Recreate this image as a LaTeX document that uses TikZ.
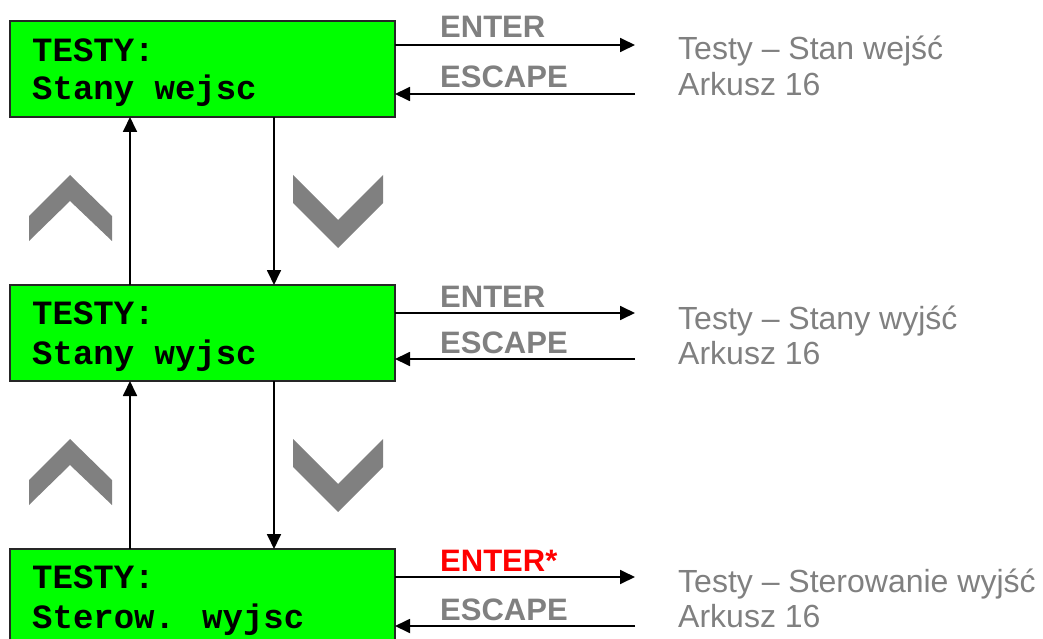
\documentclass[tikz,border=0pt]{standalone}
\usepackage{fontspec}
\setmainfont{Liberation Sans}
\newfontfamily\lcdfont{Liberation Mono}
\usetikzlibrary{arrows.meta}
\definecolor{lcdgreen}{RGB}{0,255,0}
\definecolor{lblgray}{RGB}{128,128,128}
\begin{document}
\begin{tikzpicture}[x=1pt,y=-1pt,
  lcd/.style={draw=black!85,line width=1.6pt,fill=lcdgreen,minimum width=385pt,minimum height=96pt,anchor=north west,inner sep=0pt,outer sep=0pt},
  lcdtxt/.style={anchor=base west,inner sep=0pt,font=\lcdfont\bfseries\fontsize{34}{38}\selectfont},
  key/.style={anchor=base west,inner sep=0pt,text=lblgray,font=\bfseries\fontsize{31}{34}\selectfont},
  keyred/.style={key,text=red},
  dest/.style={anchor=base west,inner sep=0pt,text=lblgray,font=\fontsize{32}{35}\selectfont},
  arr/.style={line width=1.8pt,-{Triangle[length=15pt,width=14pt]}},
  chev/.style={fill=lblgray}]
\useasboundingbox (0,0) rectangle (1043,639);
\clip (0,0) rectangle (1043,639);
% boxes
\node[lcd] (b1) at (10,21) {};
\node[lcd] (b2) at (10,285) {};
\node[lcd] (b3) at (10,549) {};
% box texts
\node[lcdtxt] (t1a) at (32,62) {TESTY:};
\node[lcdtxt] (t1b) at (32,100) {Stany wejsc};
\node[lcdtxt] (t2a) at (32,324) {TESTY:};
\node[lcdtxt] (t2b) at (32,364) {Stany wyjsc};
\node[lcdtxt] (t3a) at (32,588) {TESTY:};
\node[lcdtxt] (t3b) at (32,628) {Sterow. wyjsc};
% columns
\coordinate (cu) at (130,0);
\coordinate (cd) at (274,0);
% vertical connectors
\draw[arr] (b2.north -| cu) -- (b1.south -| cu);
\draw[arr] (b1.south -| cd) -- (b2.north -| cd);
\draw[arr] (b3.north -| cu) -- (b2.south -| cu);
\draw[arr] (b2.south -| cd) -- (b3.north -| cd);
% right ends
\coordinate (e1) at (635,45);
\coordinate (s1) at (635,94);
\coordinate (e2) at (635,313);
\coordinate (s2) at (635,359);
\coordinate (e3) at (635,577);
\coordinate (s3) at (635,626);
\draw[arr] (b1.east |- e1) -- (e1);
\draw[arr] (s1) -- (b1.east |- s1);
\draw[arr] (b2.east |- e2) -- (e2);
\draw[arr] (s2) -- (b2.east |- s2);
\draw[arr] (b3.east |- e3) -- (e3);
\draw[arr] (s3) -- (b3.east |- s3);
% key labels
\node[key] (k1e) at (440,38) {ENTER};
\node[key] (k1s) at (440,88) {ESCAPE};
\node[key] (k2e) at (440,307) {ENTER};
\node[key] (k2s) at (440,353) {ESCAPE};
\node[keyred] (k3e) at (440,571) {ENTER*};
\node[key] (k3s) at (440,620) {ESCAPE};
% destinations
\node[dest] (d1a) at (678,60) {Testy – Stan wejść};
\node[dest] (d1b) at (678,96) {Arkusz 16};
\node[dest] (d2a) at (678,329) {Testy – Stany wyjść};
\node[dest] (d2b) at (678,364) {Arkusz 16};
\node[dest] (d3a) at (678,592) {Testy – Sterowanie wyjść};
\node[dest] (d3b) at (678,627) {Arkusz 16};
% chevrons
\foreach \dy in {0,264}{
  \fill[chev] (29,216+\dy) -- (70,175+\dy) -- (112,216+\dy) -- (112,241+\dy) -- (70,201+\dy) -- (29,241+\dy) -- cycle;
  \fill[chev] (293,175+\dy) -- (338,220+\dy) -- (383,175+\dy) -- (383,203+\dy) -- (338,248+\dy) -- (293,203+\dy) -- cycle;
}
\end{tikzpicture}
\end{document}
